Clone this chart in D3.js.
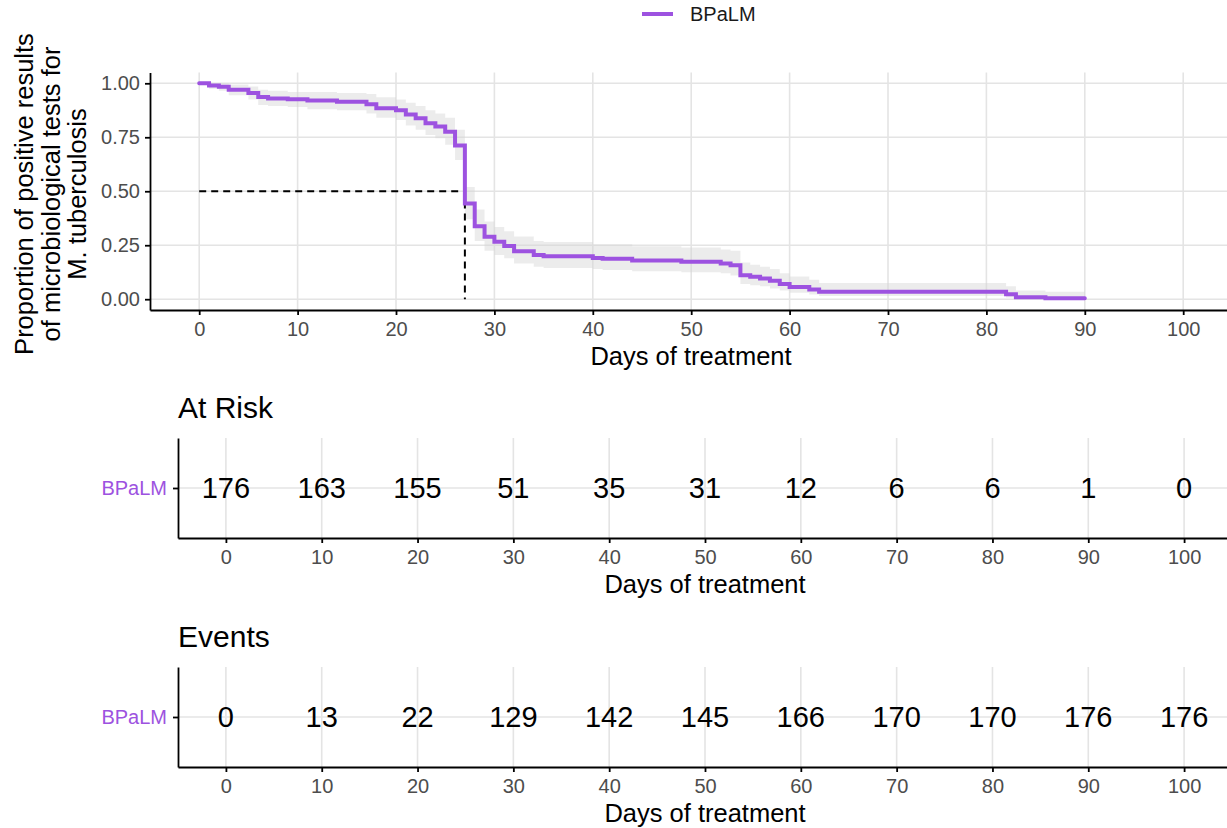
<!DOCTYPE html>
<html>
<head>
<meta charset="utf-8">
<script src="https://cdn.jsdelivr.net/npm/d3@7"></script>
<style>
  body { margin: 0; background: #fff; }
  svg { display: block; font-family: "Liberation Sans", Arial, sans-serif; }
  .grid line { stroke: #e4e4e4; stroke-width: 1.6; }
  .axis path, .axis line { stroke: #000; stroke-width: 1.8; }
  .axis text { fill: #4d4d4d; font-size: 20px; font-family: "Liberation Sans", Arial, sans-serif; }
</style>
</head>
<body>
<script>
// Kaplan-Meier steps (day, proportion, lower CI, upper CI)
var kmDays  = [0, 1, 2, 3, 5, 6, 7, 9, 11, 14, 17, 18, 20, 21, 22, 23, 24, 25, 26, 27, 28, 29, 30, 31, 32, 34, 35, 40, 41, 44, 49, 53, 54, 55, 56, 57, 58, 59, 60, 62, 63, 82, 83, 86, 90];
var kmSurv  = [1.0, 0.99, 0.984, 0.97, 0.955, 0.937, 0.93, 0.926, 0.92, 0.915, 0.903, 0.885, 0.875, 0.855, 0.838, 0.815, 0.80, 0.776, 0.712, 0.443, 0.338, 0.289, 0.266, 0.246, 0.222, 0.205, 0.199, 0.191, 0.187, 0.179, 0.173, 0.165, 0.157, 0.111, 0.104, 0.096, 0.085, 0.07, 0.057, 0.045, 0.034, 0.023, 0.009, 0.004, 0.004];
var kmLower = [1.0, 0.975, 0.965, 0.945, 0.925, 0.90, 0.895, 0.89, 0.88, 0.875, 0.86, 0.84, 0.83, 0.805, 0.785, 0.76, 0.745, 0.715, 0.645, 0.37, 0.27, 0.225, 0.205, 0.19, 0.165, 0.15, 0.145, 0.14, 0.135, 0.13, 0.125, 0.12, 0.11, 0.07, 0.065, 0.06, 0.05, 0.04, 0.03, 0.022, 0.015, 0.008, 0.001, 0.0, 0.0];
var kmUpper = [1.0, 1.0, 1.0, 0.995, 0.985, 0.97, 0.965, 0.96, 0.96, 0.955, 0.95, 0.935, 0.925, 0.91, 0.895, 0.875, 0.86, 0.84, 0.785, 0.52, 0.415, 0.36, 0.335, 0.315, 0.29, 0.27, 0.265, 0.255, 0.255, 0.245, 0.24, 0.23, 0.225, 0.17, 0.16, 0.15, 0.14, 0.12, 0.105, 0.09, 0.075, 0.06, 0.04, 0.035, 0.035];

var medianDay = 27;
var medianSurv = 0.5;

var groupName = "BPaLM";
var tableDays = [0, 10, 20, 30, 40, 50, 60, 70, 80, 90, 100];
var atRisk = [176, 163, 155, 51, 35, 31, 12, 6, 6, 1, 0];
var events = [0, 13, 22, 129, 142, 145, 166, 170, 170, 176, 176];
var yTicks = [0, 0.25, 0.5, 0.75, 1];

var purple = "#9d52e0";
var W = 1227, H = 828;

var svg = d3.select("body").append("svg")
    .attr("width", W)
    .attr("height", H);

// ---- legend ----
var legend = svg.append("g").attr("class", "legend");
legend.append("line")
    .attr("x1", 642).attr("x2", 673)
    .attr("y1", 14).attr("y2", 14)
    .style("stroke", purple)
    .style("stroke-width", 4);
legend.append("text")
    .attr("x", 690).attr("y", 14)
    .attr("dy", "0.36em")
    .style("font-size", "20px")
    .style("fill", "#1a1a1a")
    .text(groupName);

// ---- survival panel ----
var x = d3.scaleLinear().domain([-5, 105]).range([150, 1232.4]);
var y = d3.scaleLinear().domain([-0.05, 1.05]).range([310, 72.5]);

var kmPanel = svg.append("g").attr("class", "km");

kmPanel.append("g").attr("class", "grid")
  .selectAll("line.v").data(tableDays).enter().append("line")
    .attr("x1", function(d) { return x(d); }).attr("x2", function(d) { return x(d); })
    .attr("y1", y.range()[1]).attr("y2", y.range()[0]);
kmPanel.append("g").attr("class", "grid")
  .selectAll("line.h").data(yTicks).enter().append("line")
    .attr("x1", x.range()[0]).attr("x2", W)
    .attr("y1", function(d) { return y(d); }).attr("y2", function(d) { return y(d); });

var kmData = kmDays.map(function(d, i) {
  return {day: d, s: kmSurv[i], lo: kmLower[i], hi: kmUpper[i]};
});

var band = d3.area()
    .curve(d3.curveStepAfter)
    .x(function(d) { return x(d.day); })
    .y0(function(d) { return y(d.lo); })
    .y1(function(d) { return y(d.hi); });

kmPanel.append("path")
    .datum(kmData)
    .attr("d", band)
    .style("fill", "#d4d4d4")
    .style("fill-opacity", 0.45);

// median lines
kmPanel.append("path")
    .attr("d", d3.line()([[x(0), y(medianSurv)], [x(medianDay), y(medianSurv)], [x(medianDay), y(0)]]))
    .style("fill", "none")
    .style("stroke", "#000")
    .style("stroke-width", 2)
    .style("stroke-dasharray", "7,5");

var line = d3.line()
    .curve(d3.curveStepAfter)
    .x(function(d) { return x(d.day); })
    .y(function(d) { return y(d.s); });

kmPanel.append("path")
    .datum(kmData)
    .attr("d", line)
    .style("fill", "none")
    .style("stroke", purple)
    .style("stroke-width", 4)
    .style("stroke-linecap", "round");

kmPanel.append("g")
    .attr("class", "axis")
    .attr("transform", "translate(0,310)")
    .call(d3.axisBottom(x).tickValues(tableDays).tickSize(5).tickSizeOuter(0).tickPadding(7));
kmPanel.append("g")
    .attr("class", "axis")
    .attr("transform", "translate(150,0)")
    .call(d3.axisLeft(y).tickValues(yTicks).tickFormat(d3.format(".2f")).tickSize(5).tickSizeOuter(0).tickPadding(5));

kmPanel.append("text")
    .attr("x", (150 + 1232) / 2)
    .attr("y", 365)
    .style("text-anchor", "middle")
    .style("font-size", "25.5px")
    .text("Days of treatment");

var yTitle = ["Proportion of positive results", "of microbiological tests for", "M. tuberculosis"];
kmPanel.append("g")
    .attr("transform", "translate(0,194) rotate(-90)")
  .selectAll("text").data(yTitle).enter().append("text")
    .attr("x", 0)
    .attr("y", function(d, i) { return 33 + i * 26.5; })
    .style("text-anchor", "middle")
    .style("font-size", "25.5px")
    .text(function(d) { return d; });

// ---- risk tables ----
function drawTable(title, values, offset) {
  var tx = d3.scaleLinear().domain([-5, 105]).range([178, 1232]);
  var ty = d3.scalePoint().domain([groupName]).range([438 + offset, 538 + offset]).padding(0.5);
  var g = svg.append("g").attr("class", "table");

  g.append("text")
      .attr("x", 178)
      .attr("y", 418 + offset)
      .style("font-size", "30px")
      .text(title);

  g.append("g").attr("class", "grid")
    .selectAll("line").data(tableDays).enter().append("line")
      .attr("x1", function(d) { return tx(d); }).attr("x2", function(d) { return tx(d); })
      .attr("y1", 438 + offset).attr("y2", 538 + offset);
  g.append("g").attr("class", "grid").append("line")
      .attr("x1", 178).attr("x2", W)
      .attr("y1", ty(groupName)).attr("y2", ty(groupName));

  g.selectAll("text.num").data(values).enter().append("text")
      .attr("class", "num")
      .attr("x", function(d, i) { return tx(tableDays[i]); })
      .attr("y", ty(groupName))
      .attr("dy", "0.36em")
      .style("text-anchor", "middle")
      .style("font-size", "29px")
      .text(function(d) { return d; });

  g.append("g")
      .attr("class", "axis")
      .attr("transform", "translate(0," + (538 + offset) + ")")
      .call(d3.axisBottom(tx).tickValues(tableDays).tickSize(5).tickSizeOuter(0).tickPadding(7));
  var ya = g.append("g")
      .attr("class", "axis")
      .attr("transform", "translate(178,0)")
      .call(d3.axisLeft(ty).tickSize(5).tickSizeOuter(0).tickPadding(6));
  ya.selectAll("text").style("fill", purple).style("font-size", "20px");

  g.append("text")
      .attr("x", (178 + 1232) / 2)
      .attr("y", 593 + offset)
      .style("text-anchor", "middle")
      .style("font-size", "25.5px")
      .text("Days of treatment");
}

drawTable("At Risk", atRisk, 0);
drawTable("Events", events, 229);
</script>
</body>
</html>
